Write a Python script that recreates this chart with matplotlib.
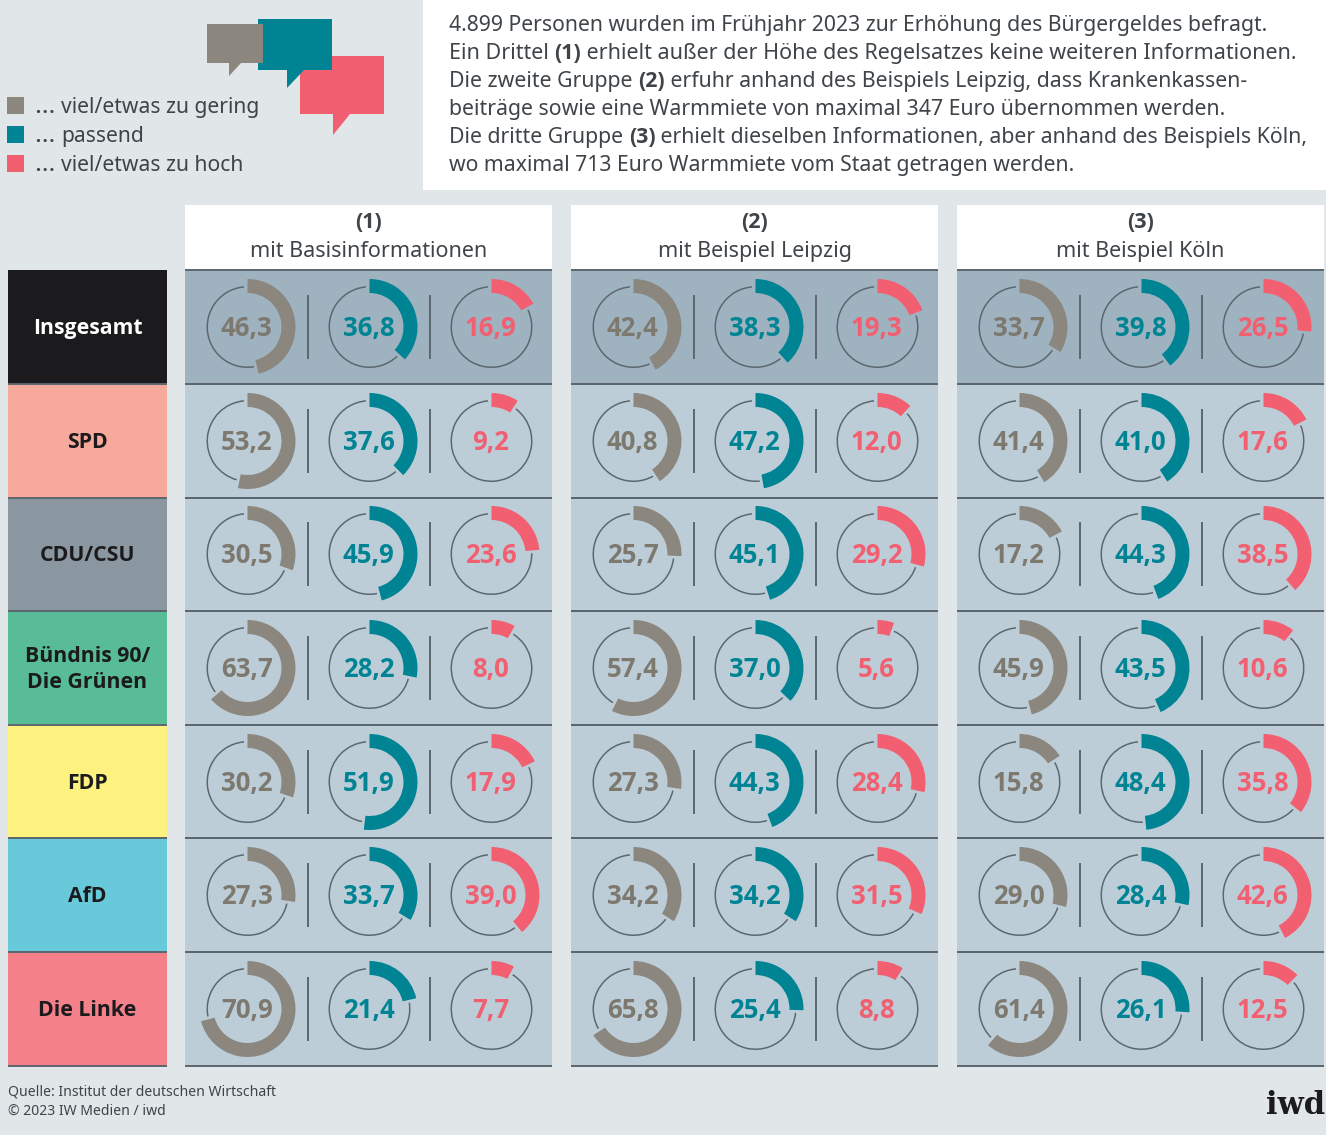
import matplotlib
matplotlib.use("Agg")
import matplotlib.pyplot as plt
from matplotlib.patches import Rectangle, Wedge, Polygon

plt.rcParams['font.family'] = ['Noto Sans', 'DejaVu Sans']
BOLD = dict(family="Open Sans", fontweight="bold")

# data
parties = ["Insgesamt", "SPD", "CDU/CSU", "Bündnis 90/\nDie Grünen", "FDP", "AfD", "Die Linke"]
party_colors = ["#1b1a1c", "#f7a99b", "#8a96a0", "#58bd96", "#fdf280", "#67c9da", "#f4808a"]
party_text = ["white", "#1b1a1c", "#1b1a1c", "#1b1a1c", "#1b1a1c", "#1b1a1c", "#1b1a1c"]
groups = ["(1)", "(2)", "(3)"]
group_names = ["mit Basisinformationen", "mit Beispiel Leipzig", "mit Beispiel Köln"]
# rows = parties, columns = groups
gering = [[46.3, 42.4, 33.7], [53.2, 40.8, 41.4], [30.5, 25.7, 17.2], [63.7, 57.4, 45.9],
          [30.2, 27.3, 15.8], [27.3, 34.2, 29.0], [70.9, 65.8, 61.4]]
passend = [[36.8, 38.3, 39.8], [37.6, 47.2, 41.0], [45.9, 45.1, 44.3], [28.2, 37.0, 43.5],
           [51.9, 44.3, 48.4], [33.7, 34.2, 28.4], [21.4, 25.4, 26.1]]
hoch = [[16.9, 19.3, 26.5], [9.2, 12.0, 17.6], [23.6, 29.2, 38.5], [8.0, 5.6, 10.6],
        [17.9, 28.4, 35.8], [39.0, 31.5, 42.6], [7.7, 8.8, 12.5]]
legend_labels = ["viel/etwas zu gering", "passend", "viel/etwas zu hoch"]
intro = [
    [("4.899 Personen wurden im Frühjahr 2023 zur Erhöhung des Bürgergeldes befragt.", False)],
    [("Ein Drittel ", False), ("(1)", True), (" erhielt außer der Höhe des Regelsatzes keine weiteren Informationen.", False)],
    [("Die zweite Gruppe ", False), ("(2)", True), (" erfuhr anhand des Beispiels Leipzig, dass Krankenkassen-", False)],
    [("beiträge sowie eine Warmmiete von maximal 347 Euro übernommen werden.", False)],
    [("Die dritte Gruppe ", False), ("(3)", True), (" erhielt dieselben Informationen, aber anhand des Beispiels Köln,", False)],
    [("wo maximal 713 Euro Warmmiete vom Staat getragen werden.", False)],
]
intro_sizes = [15.25, 15.5, 15.35, 15.35, 15.35, 15.25]

BG = "#e1e6e9"
GREY = "#8b877f"
TEAL = "#008494"
RED = "#f25f70"
DARK = "#3f4449"
LINE = "#5c666e"

fig = plt.figure(figsize=(13.26, 11.35), dpi=100, facecolor=BG)
ax = fig.add_axes([0, 0, 1, 1])
ax.set_xlim(0, 1326)
ax.set_ylim(1135, 0)
ax.axis("off")


def rich_line(x, y, runs, size):
    # bold and regular pieces one after the other
    renderer = fig.canvas.get_renderer()
    for s, bold in runs:
        style = dict(BOLD, fontsize=size) if bold else dict(fontsize=size)
        ax.text(x, y, s, color=DARK, va="baseline", ha="left", **style)
        # spaces at the ends are dropped when measuring, so use no-break spaces
        probe = ax.text(0, 0, s.replace(" ", "\u00a0"), **style)
        x += probe.get_window_extent(renderer).width
        probe.remove()


def ring(cx, cy, value, color):
    end = -90 + value * 3.6
    ax.add_patch(Wedge((cx, cy), 41, end + 4, 270 - 5, width=1.5, fc=LINE, ec="none"))
    ax.add_patch(Wedge((cx, cy), 48, -90, end, width=14, fc=color, ec="none"))
    ax.text(cx - 0.8, cy - 1.5, f"{value:.1f}".replace(".", ","), fontsize=18.5, **BOLD,
            color=color if color != GREY else "#7d796f", ha="center", va="center_baseline")


# top
ax.add_patch(Rectangle((423, 0), 903, 190, fc="white", ec="none"))
for i, runs in enumerate(intro):
    rich_line(449, 31 + i * 28, runs, intro_sizes[i])

# speech bubbles
ax.add_patch(Polygon([(300, 56), (384, 56), (384, 114), (350, 114), (333, 135), (333, 114), (300, 114)], fc=RED, ec="none"))
ax.add_patch(Polygon([(258, 19), (332, 19), (332, 70), (304, 70), (287, 88), (287, 70), (258, 70)], fc=TEAL, ec="none"))
ax.add_patch(Polygon([(207, 24), (263, 24), (263, 63), (241, 63), (229, 76), (229, 63), (207, 63)], fc=GREY, ec="none"))

for i, (lab, col) in enumerate(zip(legend_labels, [GREY, TEAL, RED])):
    ax.add_patch(Rectangle((7, 97 + i * 29), 17, 17, fc=col, ec="none"))
    ax.text(34, 113 + i * 29, "…", fontsize=18.5, color=DARK, va="baseline", ha="left")
    ax.text(61, 113 + i * 29, lab, fontsize=15.2, color=DARK, va="baseline", ha="left")

# table
row_top = [270, 384, 498, 611, 725, 838, 952]
row_bottom = [384, 498, 611, 725, 838, 952, 1066]
row_mid = [327, 441, 554, 668, 782, 895, 1009]
panel_left = [185, 571, 957]
panel_width = 367

for g, left in enumerate(panel_left):
    ax.add_patch(Rectangle((left, 205), panel_width, 64, fc="white", ec="none"))
    ax.text(left + panel_width / 2, 222, groups[g], fontsize=15.5, **BOLD, color=DARK, ha="center", va="center")
    ax.text(left + panel_width / 2, 249, group_names[g], fontsize=15.5, color=DARK, ha="center", va="center_baseline")

for r in range(len(parties)):
    top, bottom, mid = row_top[r], row_bottom[r], row_mid[r]
    ax.add_patch(Rectangle((8, top), 159, bottom - top, fc=party_colors[r], ec="none"))
    ax.plot([8, 167], [bottom, bottom], color=LINE, lw=1.4, solid_capstyle="butt")
    ax.text(87.5, mid + 1.5, parties[r], fontsize=15.3, **BOLD, color=party_text[r],
            ha="center", va="center", linespacing=1.25)
    for g, left in enumerate(panel_left):
        ax.add_patch(Rectangle((left, top), panel_width, bottom - top,
                               fc="#9fb2c0" if r == 0 else "#bccdd8", ec="none"))
        ax.plot([left, left + panel_width], [top, top], color=LINE, lw=1.4, solid_capstyle="butt")
        ax.plot([left, left + panel_width], [bottom, bottom], color=LINE, lw=1.4, solid_capstyle="butt")
        ring(left + 62.5, mid, gering[r][g], GREY)
        ring(left + 184.5, mid, passend[r][g], TEAL)
        ring(left + 306.5, mid, hoch[r][g], RED)
        for dx in (123, 245):
            ax.plot([left + dx, left + dx], [mid - 32, mid + 32], color=LINE, lw=1.4, solid_capstyle="butt")

# footer
ax.text(8, 1096, "Quelle: Institut der deutschen Wirtschaft", fontsize=10.1, color=DARK, va="baseline")
ax.text(8, 1115, "© 2023 IW Medien / iwd", fontsize=10.1, color=DARK, va="baseline")
ax.text(1325, 1114, "iwd", fontsize=22, fontweight="bold", family="DejaVu Serif", color="#1b1a1c", ha="right", va="baseline")

fig.savefig("out.png", dpi=100, facecolor=BG)
